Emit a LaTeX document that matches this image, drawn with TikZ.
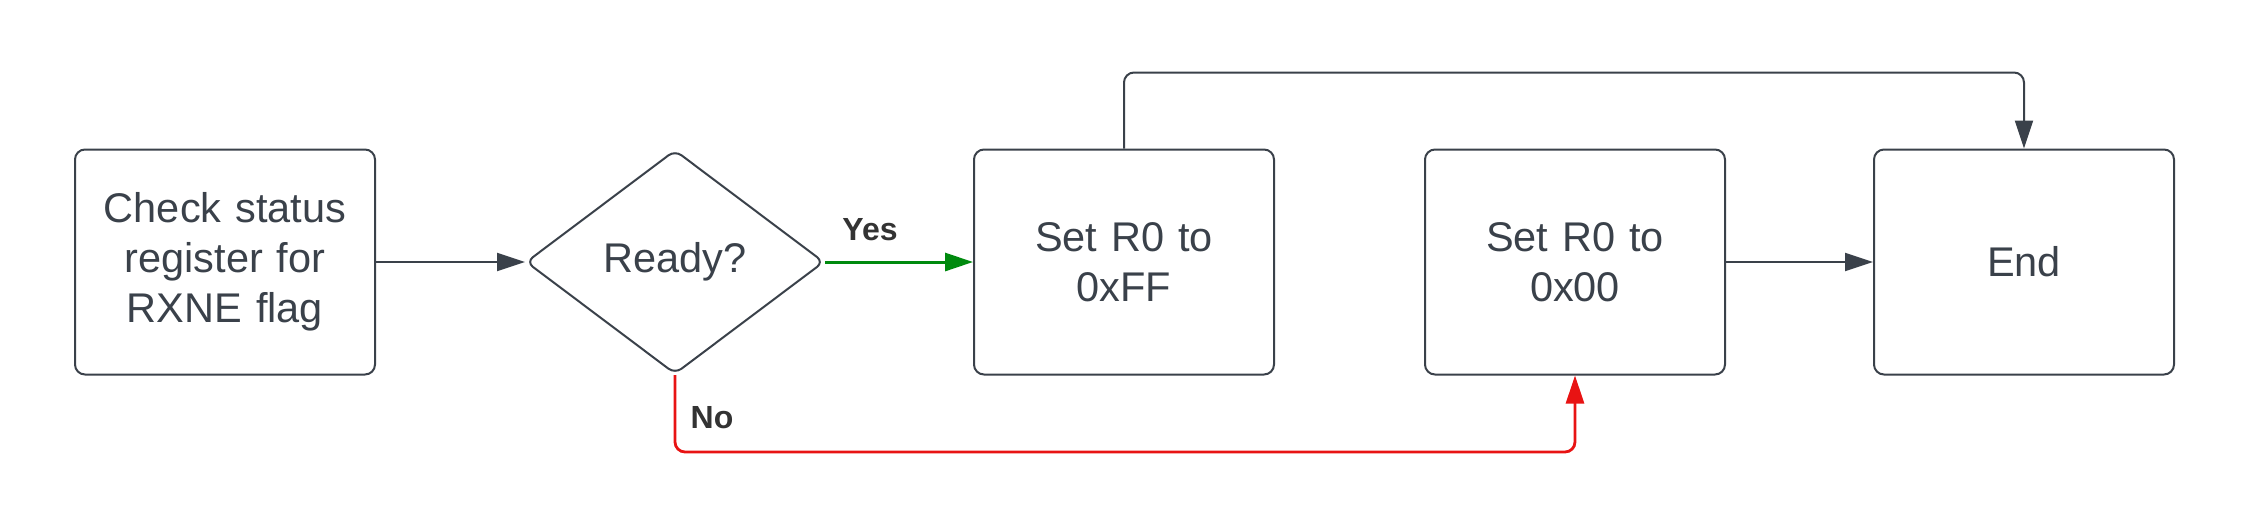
\documentclass[tikz,border=0pt]{standalone}
\usepackage{fontspec}
\setmainfont{Liberation Sans}
\usetikzlibrary{arrows.meta,shapes.geometric}
\definecolor{ink}{HTML}{3A414A}
\definecolor{lbl}{HTML}{333333}
\definecolor{okgreen}{HTML}{008A0E}
\definecolor{nored}{HTML}{E81313}
\tikzset{
  stepbox/.style={draw=ink, line width=1pt, rounded corners=5pt, minimum width=150pt, minimum height=112.5pt, text width=140pt, align=center, text=ink, inner sep=0pt, font=\fontsize{20.75}{25}\selectfont},
  decision/.style={draw=ink, line width=1pt, diamond, aspect=1.33, minimum width=149pt, minimum height=112pt, inner sep=0pt, rounded corners=4pt, text=ink, font=\fontsize{20.75}{25}\selectfont},
  conn/.style={draw=ink, line width=1pt, -{Triangle[length=14pt,width=9pt]}},
  yesconn/.style={draw=okgreen, line width=1.5pt, -{Triangle[length=14pt,width=9pt]}},
  noconn/.style={draw=nored, line width=1.4pt, rounded corners=5pt, -{Triangle[length=14pt,width=9pt]}},
  edgelbl/.style={text=lbl, font=\fontsize{16}{19}\selectfont\bfseries}
}
\begin{document}
\begin{tikzpicture}[x=0.5pt,y=-0.5pt]
\useasboundingbox (0,0) rectangle (2250,527);
\node[stepbox] (b1) at (225,262) {Check status\\register for\\RXNE flag};
\node[decision] (d) at (675,262) {Ready?};
\node[stepbox] (b2) at (1124,262) {Set R0 to\\0xFF};
\node[stepbox] (b3) at (1575,262) {Set R0 to\\0x00};
\node[stepbox] (b4) at (2024,262) {End};
\node[edgelbl] (yes) at (870,230) {Yes};
\node[edgelbl] (no) at (712,418) {No};
\draw[conn] (b1.east) -- (d.west);
\draw[yesconn] (d.east) -- (b2.west);
\draw[conn] (b3.east) -- (b4.west);
\draw[conn, rounded corners=5pt] (b2.north) -- ++(0,-76) -| (b4.north);
\draw[noconn] (d.south) -- ++(0,77) -| (b3.south);
\end{tikzpicture}
\end{document}
